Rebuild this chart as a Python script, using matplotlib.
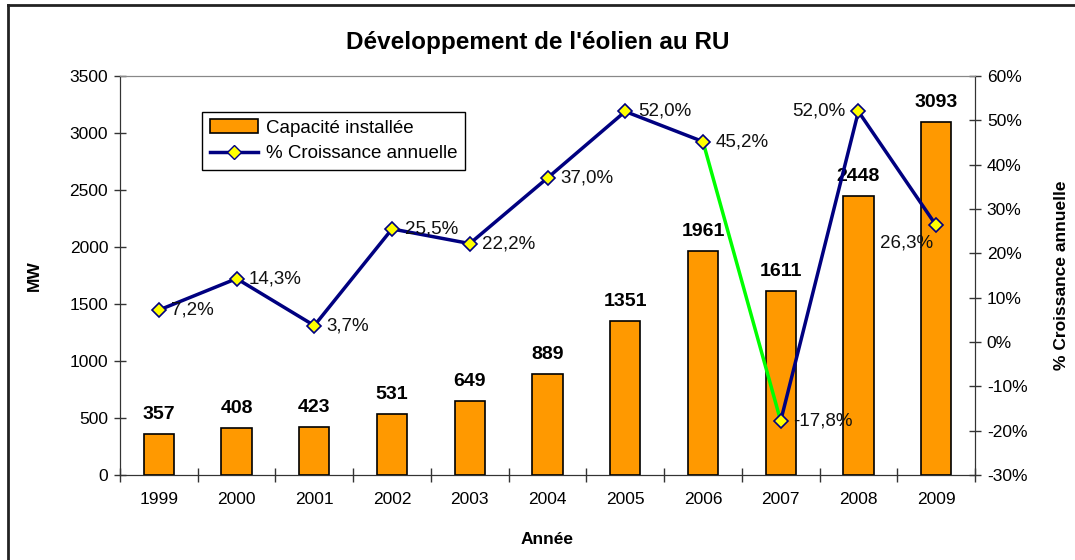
import matplotlib
matplotlib.use("Agg")
import matplotlib.pyplot as plt
from matplotlib.lines import Line2D
import numpy as np

plt.rcParams['font.family'] = ['Liberation Sans', 'DejaVu Sans']

years = ['1999', '2000', '2001', '2002', '2003', '2004', '2005', '2006', '2007', '2008', '2009']
capacity = [357, 408, 423, 531, 649, 889, 1351, 1961, 1611, 2448, 3093]
growth = [7.2, 14.3, 3.7, 25.5, 22.2, 37.0, 52.0, 45.2, -17.8, 52.0, 26.3]
growth_labels = ['7,2%', '14,3%', '3,7%', '25,5%', '22,2%', '37,0%', '52,0%', '45,2%', '-17,8%', '52,0%', '26,3%']

fig = plt.figure(figsize=(10.75, 5.6), dpi=100)
ax = fig.add_axes([120/1075, 1-475/560, 855/1075, 399/560])
ax2 = ax.twinx()

x = np.arange(len(years))
ax.bar(x, capacity, width=0.39, color='#FF9900', edgecolor='black', linewidth=1.2,
       label='Capacité installée', zorder=2)
ax.set_xlim(-0.5, len(years) - 0.5)
ax.set_ylim(0, 3500)
ax.set_yticks(range(0, 3501, 500))
ax.set_xticks(x)
ax.set_xticklabels(years, fontsize=12.5)
ax.set_xticks(np.arange(-0.5, len(years), 1), minor=True)
ax.tick_params(axis='x', which='major', length=0, pad=12)
ax.tick_params(axis='x', which='minor', direction='inout', length=10, width=1, color='#333333')
ax.tick_params(axis='y', direction='inout', length=9, width=1, color='#333333', labelsize=12.5, pad=4)
for v, xi in zip(capacity, x):
    ax.annotate(str(v), (xi, v), xytext=(0, 8), textcoords='offset points',
                ha='center', va='bottom', fontsize=14, fontweight='bold')

ax.set_ylabel('MW', fontsize=12.5, fontweight='bold', labelpad=20)
ax.set_xlabel('Année', fontsize=12.5, fontweight='bold', labelpad=18)

# line
ax2.set_ylim(-30, 60)
ax2.set_yticks(range(-30, 61, 10))
ax2.set_yticklabels([f'{t}%' for t in range(-30, 61, 10)])
ax2.tick_params(axis='y', direction='inout', length=9, width=1, color='#333333', labelsize=12.5, pad=4)
seg_colors = ['#000080'] * (len(years) - 1)
seg_colors[7] = '#00FF00'
for i in range(len(years) - 1):
    ax2.plot(x[i:i+2], growth[i:i+2], color=seg_colors[i], linewidth=2.5, zorder=3,
             solid_capstyle='round')
ax2.plot(x, growth, linestyle='none', marker='D', markersize=7, markerfacecolor='#FFFF00',
         markeredgecolor='#000080', markeredgewidth=1.2, zorder=4)

offsets = {i: (9, 0, 'left', 'center') for i in range(len(years))}
offsets[9] = (-9, 0, 'right', 'center')
offsets[10] = (-2, -13, 'right', 'center')
for i, (g, lab) in enumerate(zip(growth, growth_labels)):
    dx, dy, ha, va = offsets[i]
    ax2.annotate(lab, (x[i], g), xytext=(dx, dy), textcoords='offset points',
                 ha=ha, va=va, fontsize=13.5, color='#111111', zorder=5)
ax2.set_ylabel('% Croissance annuelle', fontsize=12.5, fontweight='bold', labelpad=19)

for a in (ax, ax2):
    a.spines['top'].set_color('#888888')
    a.spines['left'].set_color('#333333')
    a.spines['right'].set_color('#333333')
    a.spines['bottom'].set_color('#333333')
ax.set_zorder(ax2.get_zorder() - 1)
ax.patch.set_visible(True)
ax2.patch.set_visible(False)

legend_handles = [
    plt.Rectangle((0, 0), 1, 1, facecolor='#FF9900', edgecolor='black', linewidth=1.2),
    Line2D([0], [0], color='#000080', linewidth=2.5, marker='D', markersize=7,
           markerfacecolor='#FFFF00', markeredgecolor='#000080'),
]
leg = ax2.legend(legend_handles, ['Capacité installée', '% Croissance annuelle'],
                 loc='upper left', bbox_to_anchor=(0.096, 0.91), borderaxespad=0,
                 fontsize=13.5, frameon=True, fancybox=False, edgecolor='black', framealpha=1,
                 handlelength=2.6, borderpad=0.4, labelspacing=0.45, handletextpad=0.4)
leg.get_frame().set_linewidth(1.0)

fig.suptitle("Développement de l'éolien au RU", fontsize=17.5, fontweight='bold', y=1-42/560, va='center')

# figure frame (left and top edges)
fig.add_artist(Line2D([8/1075, 8/1075], [0, 1-5/560], color='#222222', linewidth=2, transform=fig.transFigure))
fig.add_artist(Line2D([8/1075, 1], [1-5/560, 1-5/560], color='#222222', linewidth=2, transform=fig.transFigure))

fig.savefig('out.png', dpi=100)
